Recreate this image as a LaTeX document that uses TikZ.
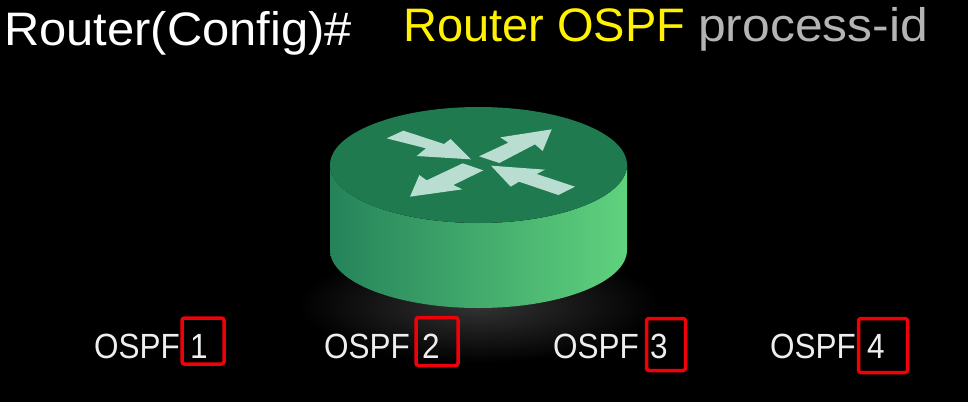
\documentclass[tikz,border=0pt]{standalone}
\usepackage{fontspec}
\setmainfont[FakeStretch=0.9]{Liberation Sans}
\newfontfamily\fontA[FakeStretch=1.04]{Liberation Sans}
\newfontfamily\fontB{Liberation Sans}
\newfontfamily\fontC[FakeStretch=1.06]{Liberation Sans}
\definecolor{topgreen}{HTML}{1F7A50}
\definecolor{sideL}{HTML}{25835A}
\definecolor{sideM}{HTML}{42A86C}
\definecolor{sideR}{HTML}{60D27E}
\definecolor{arrowc}{HTML}{B9DDD0}
\definecolor{redbox}{HTML}{F00008}
\definecolor{glowc}{HTML}{333333}
\definecolor{greytext}{HTML}{B4B4B4}
\definecolor{labeltext}{HTML}{EEEEEE}
\tikzset{
  title/.style={anchor=base west,inner sep=0pt},
  lbl/.style={anchor=base west,inner sep=0pt,text=labeltext,font=\fontsize{35}{35}\selectfont},
  numbox/.style={draw=redbox,line width=3.5pt,rounded corners=2.5pt,inner sep=0pt},
  arrowshape/.style={fill=arrowc,draw=none}
}
\newcommand{\zp}[2]{({320+#1/3},{95+#2/3})}
\begin{document}
\begin{tikzpicture}[x=1pt,y=-1pt]
\useasboundingbox[fill=black] (0,0) rectangle (968,402);
% glow
\shade[inner color=glowc,outer color=black] (478,305) ellipse [x radius=180,y radius=58];
% router side
\shade[left color=sideL,middle color=sideM,right color=sideR]
  (330,165) -- (330,250) arc[start angle=180,end angle=0,x radius=148.5,y radius=58]
  -- (627,165) arc[start angle=0,end angle=180,x radius=148.5,y radius=58] -- cycle;
% router top
\fill[topgreen] (478.5,165) ellipse [x radius=148.5,y radius=58];
% arrows
\fill[arrowshape] \zp{200}{130} -- \zp{250}{107} -- \zp{372}{147} -- \zp{392}{132} -- \zp{453}{193} -- \zp{290}{183} -- \zp{318}{160} -- cycle;
\fill[arrowshape] \zp{695}{103} -- \zp{668}{168} -- \zp{645}{148} -- \zp{538}{204} -- \zp{477}{184} -- \zp{565}{143} -- \zp{541}{127} -- cycle;
\fill[arrowshape] \zp{270}{305} -- \zp{298}{240} -- \zp{320}{256} -- \zp{428}{205} -- \zp{490}{226} -- \zp{400}{270} -- \zp{427}{283} -- cycle;
\fill[arrowshape] \zp{513}{212} -- \zp{675}{224} -- \zp{650}{237} -- \zp{765}{275} -- \zp{715}{300} -- \zp{597}{260} -- \zp{572}{275} -- cycle;
% titles
\node[title,text=white,font=\fontA\fontsize{47}{47}\selectfont] (cfg) at (4,45) {Router(Config)\#};
\node[title,text=yellow,font=\fontB\fontsize{47}{47}\selectfont] (ospf) at (403,41) {Router OSPF};
\node[title,text=greytext,font=\fontC\fontsize{47}{47}\selectfont] (pid) at (698,41) {process-id};
% labels
\node[lbl] (o1) at (94,358) {OSPF};
\node[lbl] (d1) at (190,358) {1};
\node[lbl] (o2) at (324,358) {OSPF};
\node[lbl] (d2) at (422,358) {2};
\node[lbl] (o3) at (553,358) {OSPF};
\node[lbl] (d3) at (650,358) {3};
\node[lbl] (o4) at (770,358) {OSPF};
\node[lbl] (d4) at (867,358) {4};
% boxes
\node[numbox,minimum width=42pt,minimum height=46pt] (b1) at (203,341) {};
\node[numbox,minimum width=42pt,minimum height=48pt] (b2) at (437,341.5) {};
\node[numbox,minimum width=39pt,minimum height=52pt] (b3) at (666,344.5) {};
\node[numbox,minimum width=49pt,minimum height=54pt] (b4) at (883,345.5) {};
\end{tikzpicture}
\end{document}
